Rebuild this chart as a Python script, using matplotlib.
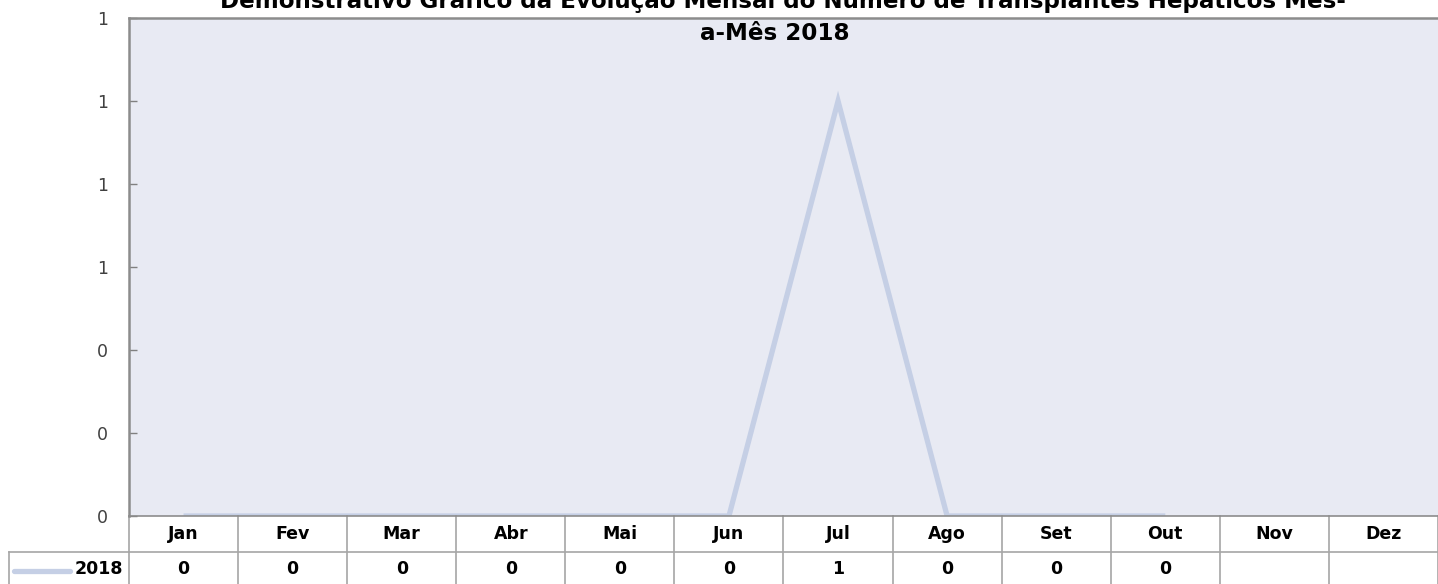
import matplotlib
matplotlib.use("Agg")
import matplotlib.pyplot as plt
from matplotlib.ticker import FuncFormatter
import matplotlib.transforms as mtransforms

months = ["Jan", "Fev", "Mar", "Abr", "Mai", "Jun", "Jul", "Ago", "Set", "Out", "Nov", "Dez"]
values_2018 = [0, 0, 0, 0, 0, 0, 1, 0, 0, 0]
series_name = "2018"
yticks = [0, 0.2, 0.4, 0.6, 0.8, 1.0, 1.2]
title_line1 = "Demonstrativo Gráfico da Evolução Mensal do Número de Transplantes Hepáticos Mês-"
title_line2 = "a-Mês 2018"

plt.rcParams['font.family'] = ['DejaVu Sans']

W, H = 1438, 584
fig = plt.figure(figsize=(W / 100, H / 100), dpi=100)

def fx(px):
    return px / W

def fy(py):
    return 1 - py / H

ax_left, ax_right, ax_top, ax_bottom = 129, 1438, 18, 516
ax = fig.add_axes([fx(ax_left), fy(ax_bottom), fx(ax_right - ax_left), fy(ax_top) - fy(ax_bottom)])
ax.set_facecolor("#E8EAF3")

line_color = "#C5CFE5"
x = list(range(len(values_2018)))
ax.plot(x, values_2018, color=line_color, lw=3.8, solid_joinstyle="miter", solid_capstyle="butt")

ax.set_xlim(-0.5, len(months) - 0.5)
ax.set_ylim(0, 1.2)
ax.set_yticks(yticks)
ax.yaxis.set_major_formatter(FuncFormatter(lambda v, p: f"{v:.0f}"))
ax.tick_params(axis="y", direction="in", length=6, width=1, color="#808080",
               labelsize=12.5, labelcolor="#404040", pad=15)
ax.set_xticks([])

ax.spines["right"].set_visible(False)
for s in ["left", "top"]:
    ax.spines[s].set_color("#8C8C8C")
    ax.spines[s].set_linewidth(1.8)
ax.spines["bottom"].set_color("#8C8C8C")
ax.spines["bottom"].set_linewidth(1.2)

# data table below the axes
trans = mtransforms.blended_transform_factory(ax.transData, fig.transFigure)
grid_color = "#A6A6A6"
row_mid = 552
table_bottom = 584
for i in range(len(months) + 1):
    xb = i - 0.5
    ax.plot([xb, xb], [fy(ax_bottom), fy(table_bottom)], transform=trans,
            color=grid_color, lw=1.2, clip_on=False)
ax.plot([-0.5, len(months) - 0.5], [fy(row_mid), fy(row_mid)], transform=trans,
        color=grid_color, lw=1.2, clip_on=False)
# left cell of the table
fig.add_artist(plt.Line2D([fx(9), fx(129)], [fy(row_mid), fy(row_mid)], color=grid_color, lw=1.2))
fig.add_artist(plt.Line2D([fx(9), fx(9)], [fy(row_mid), fy(table_bottom)], color=grid_color, lw=1.2))
fig.add_artist(plt.Line2D([fx(14), fx(70)], [fy(571), fy(571)], color=line_color, lw=3.8,
                          solid_capstyle="round"))
fig.text(fx(123), fy(569), series_name, ha="right", va="center", fontsize=12.5,
         fontweight="bold", color="#000000")

for i, m in enumerate(months):
    ax.text(i, fy(534), m, transform=trans, ha="center", va="center",
            fontsize=12.5, fontweight="bold", color="#000000")
for i, v in enumerate(values_2018):
    ax.text(i, fy(569), f"{v}", transform=trans, ha="center", va="center",
            fontsize=12.5, fontweight="bold", color="#000000")

fig.text(fx(783), fy(8), title_line1, ha="center", va="baseline", fontsize=16.6,
         fontweight="bold", color="#000000")
fig.text(fx(775), fy(39.5), title_line2, ha="center", va="baseline", fontsize=16.6,
         fontweight="bold", color="#000000")

fig.savefig("out.png", dpi=100)
